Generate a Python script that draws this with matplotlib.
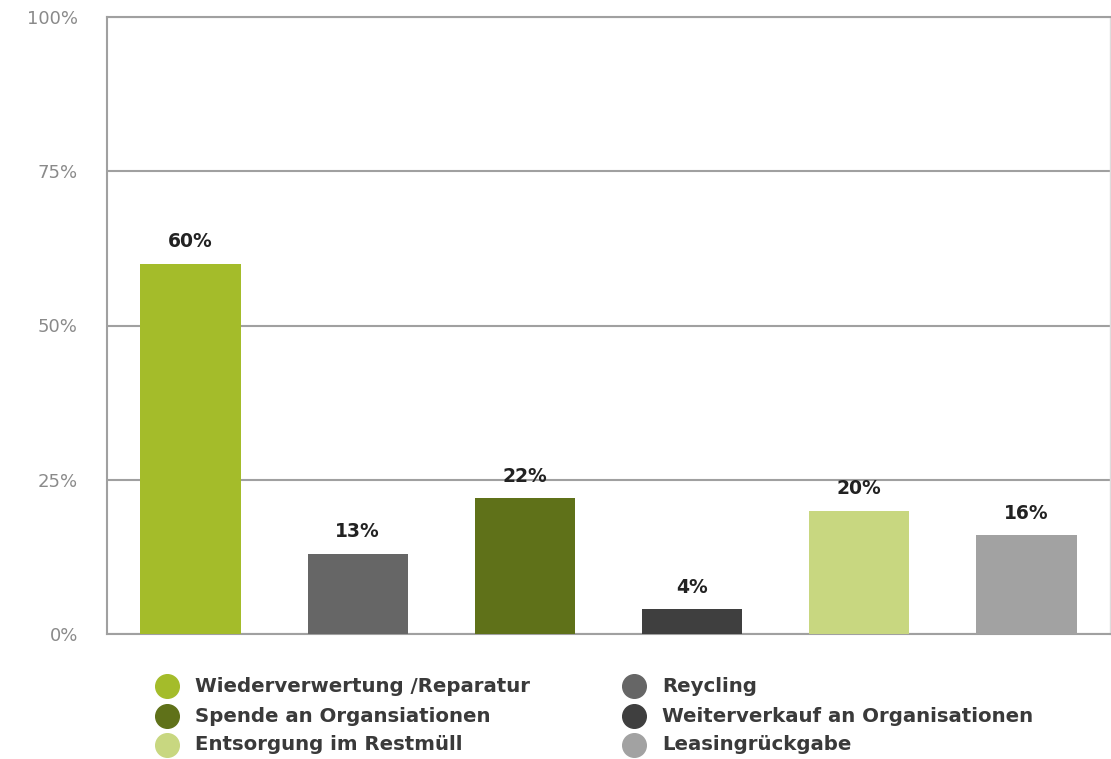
import matplotlib
matplotlib.use("Agg")
import matplotlib.pyplot as plt
from matplotlib.lines import Line2D

plt.rcParams['font.family'] = ['DejaVu Sans']

categories = [
    "Wiederverwertung /Reparatur",
    "Reycling",
    "Spende an Organsiationen",
    "Weiterverkauf an Organisationen",
    "Entsorgung im Restmüll",
    "Leasingrückgabe",
]
values = [60, 13, 22, 4, 20, 16]
colors = ["#A4BC2A", "#666666", "#5F7119", "#3F3F3F", "#C8D780", "#A2A2A2"]
yticks = [0, 25, 50, 75, 100]
ytick_labels = ["0%", "25%", "50%", "75%", "100%"]

W, H = 1111, 759
fig = plt.figure(figsize=(W / 100, H / 100), dpi=100)
ax = fig.add_axes([107 / W, 125 / H, 1003 / W, 617 / H])

x = range(len(values))
ax.bar(x, values, width=0.6, color=colors, zorder=3)
for xi, v in zip(x, values):
    ax.text(xi, v + 2.0, f"{v}%", ha="center", va="bottom",
            fontsize=13.5, fontweight="bold", color="#222222", zorder=4)

ax.set_xlim(-0.5, 5.5)
ax.set_ylim(0, 100)
ax.set_yticks(yticks)
ax.set_yticklabels(ytick_labels, fontsize=13, color="#8A8A8A")
ax.set_xticks([])
ax.tick_params(axis="y", length=0, pad=21)
ax.yaxis.grid(True, color="#A0A0A0", linewidth=1.5, zorder=0)
ax.set_axisbelow(True)
for side in ["left", "bottom", "top"]:
    ax.spines[side].set_color("#A0A0A0")
    ax.spines[side].set_linewidth(1.5)
ax.spines["right"].set_color("#DDDDDD")
ax.spines["right"].set_linewidth(1.0)

# Two-column legend below the plot
rows_y = [686, 716, 745]
col_x = [167, 634]
for i, (label, c) in enumerate(zip(categories, colors)):
    col = i % 2
    row = i // 2
    mx = col_x[col] / W
    my = 1 - rows_y[row] / H
    fig.add_artist(Line2D([mx], [my], marker="o", markersize=17,
                          color=c, linestyle="none", transform=fig.transFigure))
    fig.text(mx + 28 / W, my, label, ha="left", va="center",
             fontsize=14.2, fontweight="bold", color="#3A3A3A")

fig.savefig("out.png", dpi=100, facecolor="white")
